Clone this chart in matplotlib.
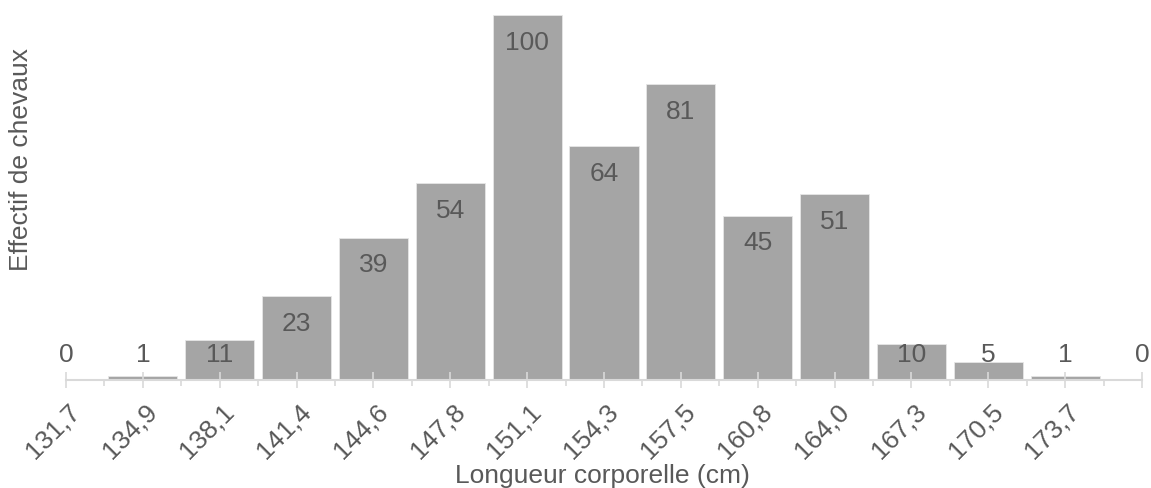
import matplotlib
matplotlib.use("Agg")
import matplotlib.pyplot as plt
import matplotlib.transforms as mtransforms
import numpy as np

# data
categories = ["131,7", "134,9", "138,1", "141,4", "144,6", "147,8", "151,1",
              "154,3", "157,5", "160,8", "164,0", "167,3", "170,5", "173,7", ""]
counts = [0, 1, 11, 23, 39, 54, 100, 64, 81, 45, 51, 10, 5, 1, 0]

bar_col = "#a5a5a5"
txt_col = "#595959"
ax_col = "#d9d9d9"

plt.rcParams["font.family"] = ["Liberation Sans", "DejaVu Sans"]

W, H = 1151, 488
fig = plt.figure(figsize=(W / 100, H / 100), dpi=100)
ax = fig.add_axes([66 / W, (H - 380) / H, (1142 - 66) / W, (380 - 15) / H])

x = np.arange(len(categories))
ax.bar(x, counts, width=0.9, color=bar_col, edgecolor="#e6e6e6", linewidth=0.6, zorder=1)

# data labels (inside end, kept above the axis)
for xi, v in zip(x, counts):
    ax.text(xi, max(v - 7.6, 6.9), str(v), ha="center", va="center",
            fontsize=19, color=txt_col, zorder=3)

ax.set_xlim(0, len(categories) - 1)
ax.set_ylim(0, 100)

for s in ["top", "right", "left"]:
    ax.spines[s].set_visible(False)
ax.spines["bottom"].set_color(ax_col)
ax.spines["bottom"].set_linewidth(1.5)
ax.set_yticks([])

ax.set_xticks(x)
ax.set_xticks(x[:-1] + 0.5, minor=True)
ax.tick_params(axis="x", which="major", direction="inout", length=11, width=1.2,
               color=ax_col, pad=8.5)
ax.tick_params(axis="x", which="minor", direction="out", length=4.5, width=1.2,
               color=ax_col)
ax.set_xticklabels(categories, rotation=45, ha="right", va="top",
                   rotation_mode="anchor", fontsize=19, color=txt_col)
shift = mtransforms.ScaledTranslation(2 / 100, 0, fig.dpi_scale_trans)
for lab in ax.get_xticklabels():
    lab.set_transform(lab.get_transform() + shift)

# axis titles
fig.text(602 / W, 1 - 483 / H, "Longueur corporelle (cm)", ha="center",
         va="baseline", fontsize=19, color=txt_col)
fig.text(21 / W, 1 - 160 / H, "Effectif de chevaux", rotation=90, ha="center",
         va="center", fontsize=19, color=txt_col)

fig.savefig("out.png", dpi=100)
